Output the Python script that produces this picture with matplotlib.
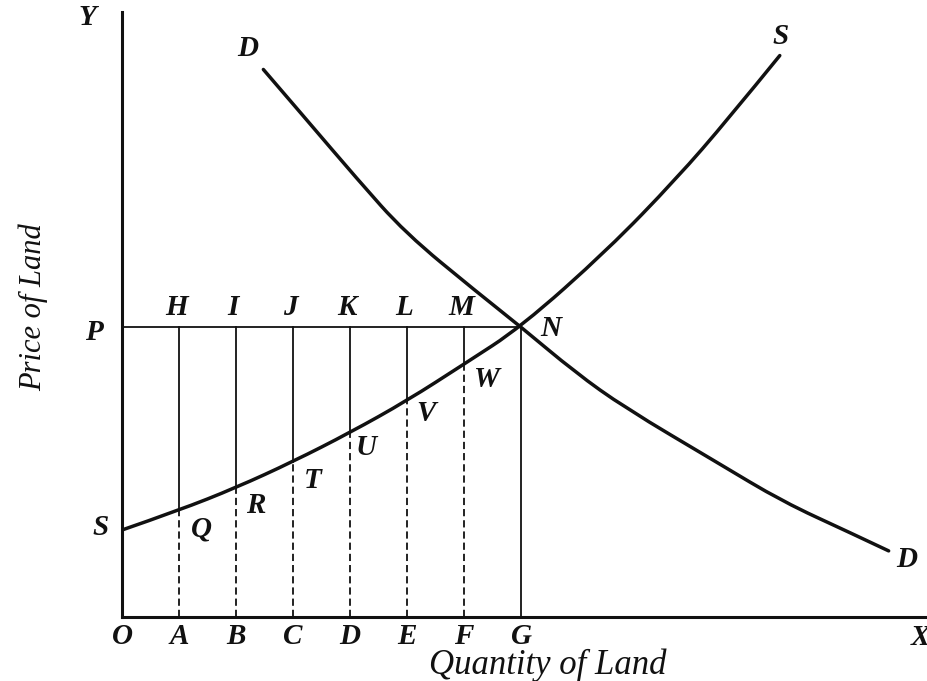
import matplotlib.pyplot as plt
from matplotlib.path import Path
from matplotlib.patches import PathPatch

# land market: supply S..S and demand D..D cross at N (quantity OG, price OP)
price = 5.0
plot_x = [0, 1, 2, 3, 4, 5, 6, 7]
plot_names = ['O', 'A', 'B', 'C', 'D', 'E', 'F', 'G']
top_names = ['H', 'I', 'J', 'K', 'L', 'M']
curve_names = ['Q', 'R', 'T', 'U', 'V', 'W']

supply_x = [0, 1, 2, 3, 4, 5, 6, 7, 8.52, 9.73, 10.63, 11.54]
supply_y = [1.5, 1.84, 2.23, 2.68, 3.18, 3.73, 4.36, 5.0, 6.33, 7.56, 8.58, 9.68]

demand_x = [2.48, 3.25, 4.11, 4.97, 6.23, 7.0, 7.95, 8.82, 10.43, 11.59, 12.76, 13.45]
demand_y = [9.44, 8.56, 7.57, 6.62, 5.60, 5.0, 4.22, 3.61, 2.67, 1.99, 1.46, 1.14]

x_max = 14.15
y_max = 10.43

plt.rcParams['font.family'] = ['Liberation Serif', 'DejaVu Serif']


def smooth_curve(xs, ys):
    # quadratic bezier through the midpoints, read points act as controls
    pts = list(zip(xs, ys))
    verts = [pts[0]]
    codes = [Path.MOVETO]
    for i in range(1, len(pts) - 1):
        mid = ((pts[i][0] + pts[i + 1][0]) / 2, (pts[i][1] + pts[i + 1][1]) / 2)
        if i == len(pts) - 2:
            mid = pts[-1]
        verts += [pts[i], mid]
        codes += [Path.CURVE3, Path.CURVE3]
    return Path(verts, codes)


fig = plt.figure(figsize=(9.28, 6.81), dpi=100)
ax = fig.add_axes([122 / 928, 64 / 681, 57 * x_max / 928, 58 * y_max / 681])
ax.set_xlim(0, x_max)
ax.set_ylim(0, y_max)
ax.axis('off')

ink = '#111111'
# axes
ax.plot([0, 0], [0, y_max], color=ink, lw=2.2, clip_on=False)
ax.plot([0, x_max], [0, 0], color=ink, lw=2.2, clip_on=False)

# price line P..N
ax.plot([0, 7], [price, price], color=ink, lw=1.3)

# verticals: solid above the supply curve, dashed below
for i, name in enumerate(top_names):
    x = plot_x[i + 1]
    y_s = supply_y[i + 1]
    ax.plot([x, x], [y_s, price], color=ink, lw=1.3)
    ax.plot([x, x], [0, y_s], color=ink, lw=1.3, ls=(0, (4, 2.2)))
ax.plot([7, 7], [0, price], color=ink, lw=1.3)

# curves
for xs, ys in [(supply_x, supply_y), (demand_x, demand_y)]:
    ax.add_patch(PathPatch(smooth_curve(xs, ys), fill=False, edgecolor=ink,
                           lw=2.5, capstyle='round', joinstyle='round'))

lab = dict(fontsize=21, fontweight='bold', fontstyle='italic', color=ink,
           ha='center', va='center', clip_on=False)

for x, name in zip(plot_x, plot_names):
    ax.text(x, -0.34, name, **lab)
for i, name in enumerate(top_names):
    ax.text(plot_x[i + 1] - 0.05, 5.33, name, **lab)

curve_lab_x = [1.40, 2.34, 3.35, 4.29, 5.34, 6.41]
curve_lab_y = [1.51, 1.93, 2.35, 2.93, 3.51, 4.09]
for x, y, name in zip(curve_lab_x, curve_lab_y, curve_names):
    ax.text(x, y, name, **lab)

ax.text(7.53, 4.97, 'N', **lab)
ax.text(-0.50, 4.90, 'P', **lab)
ax.text(-0.38, 1.55, 'S', **lab)
ax.text(11.55, 10.0, 'S', **lab)
ax.text(2.2, 9.8, 'D', **lab)
ax.text(13.76, 0.99, 'D', **lab)
ax.text(-0.6, 10.33, 'Y', **lab)
ax.text(14.0, -0.36, 'X', **lab)

ax.text(7.47, -0.985, 'Quantity of Land', fontsize=25, fontstyle='italic', color=ink,
        ha='center', va='baseline', clip_on=False)
ax.text(-1.55, 5.34, 'Price of Land', fontsize=22, fontstyle='italic', color=ink,
        rotation=90, ha='center', va='center', clip_on=False)

fig.savefig('out.png', dpi=100, facecolor='white')
